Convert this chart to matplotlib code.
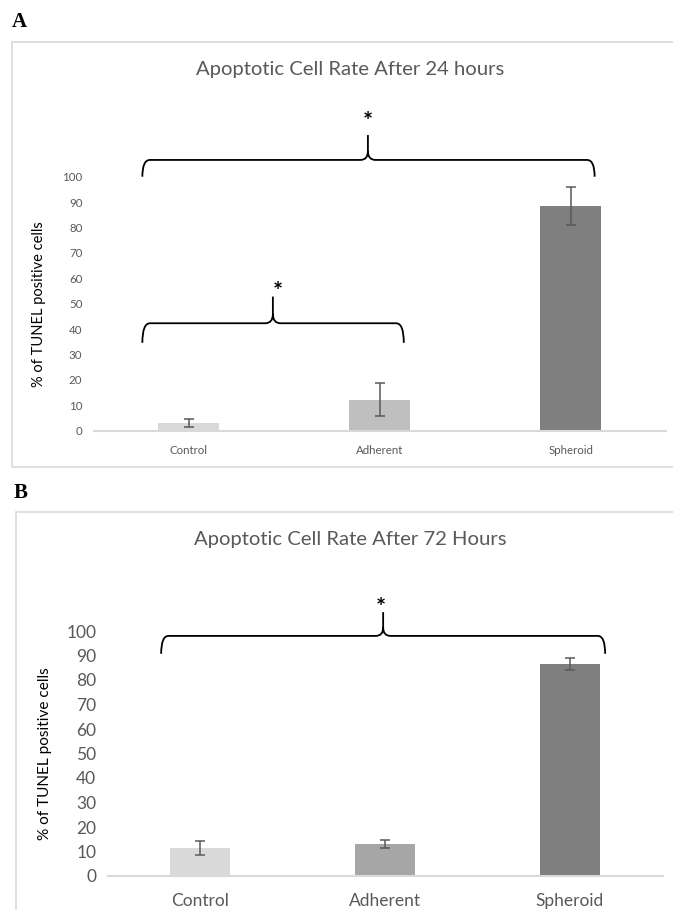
import matplotlib.pyplot as plt
from matplotlib.path import Path
from matplotlib.patches import PathPatch, Rectangle

plt.rcParams['font.family'] = ['Lato', 'DejaVu Sans']

groups = ['Control', 'Adherent', 'Spheroid']

rate_24h = [2.9, 12.1, 88.5]
err_24h = [1.6, 6.5, 7.4]
colors_24h = ['#d9d9d9', '#bfbfbf', '#7f7f7f']

rate_72h = [11.4, 13.1, 86.4]
err_72h = [3.0, 1.7, 2.5]
colors_72h = ['#d9d9d9', '#a6a6a6', '#7f7f7f']

text_grey = '#595959'


def brace(ax, x0, x1, y, drop, rise, xm):
    # curly brace in data coords, ends pointing down
    r = 0.04
    verts = [
        (x0, y - drop), (x0, y), (x0 + r, y),
        (xm - r, y), (xm, y), (xm, y + rise * 0.35),
        (xm, y + rise),
        (xm, y + rise * 0.35), (xm, y), (xm + r, y),
        (x1 - r, y), (x1, y), (x1, y - drop),
    ]
    codes = [Path.MOVETO, Path.CURVE3, Path.CURVE3,
             Path.LINETO, Path.CURVE3, Path.CURVE3,
             Path.LINETO,
             Path.MOVETO, Path.CURVE3, Path.CURVE3,
             Path.LINETO, Path.CURVE3, Path.CURVE3]
    ax.add_patch(PathPatch(Path(verts, codes), fill=False, lw=1.3,
                           edgecolor='black', clip_on=False))


def panel(fig, rect, title, vals, errs, colors, tick_fs, lab_fs, xpad,
          title_y, frame):
    ax = fig.add_axes(rect)
    x = range(len(groups))
    ax.bar(x, vals, width=0.32, color=colors, zorder=2)
    ax.errorbar(x, vals, yerr=errs, fmt='none', ecolor='#595959',
                elinewidth=1.1, capsize=3.5, capthick=1.1, zorder=3)
    ax.set_xlim(-0.5, 2.5)
    ax.set_ylim(0, 100)
    ax.set_yticks(range(0, 101, 10))
    ax.set_xticks(list(x))
    ax.set_xticklabels(groups)
    for s in ['top', 'right', 'left']:
        ax.spines[s].set_visible(False)
    ax.spines['bottom'].set_color('#d9d9d9')
    ax.spines['bottom'].set_linewidth(1.5)
    ax.tick_params(length=0, labelsize=tick_fs, colors=text_grey, pad=8)
    ax.tick_params(axis='x', pad=xpad)
    ax.set_ylabel('% of TUNEL positive cells', color='black',
                  fontsize=lab_fs)
    fig.text(350 / 673, title_y, title, ha='center', va='center',
             fontsize=14.6, color=text_grey)
    fig.add_artist(Rectangle((frame[0], frame[1]), frame[2], frame[3],
                             transform=fig.transFigure, fill=False,
                             edgecolor='#d9d9d9', lw=1.2))
    return ax


fig = plt.figure(figsize=(6.73, 9.10), dpi=100)

W, H = 673, 910

# panel A
axA = panel(fig, [93.5 / W, 1 - 430.7 / H, 572.5 / W, 254 / H],
            'Apoptotic Cell Rate After 24 hours', rate_24h, err_24h,
            colors_24h, 8.3, 10.5, 10, 1 - 69 / H,
            (12 / W, 1 - 467 / H, 670 / W, 425 / H))
axA.yaxis.set_label_coords(-0.083, 0.5)
brace(axA, -0.244, 2.126, 106.6, 6.6, 9.8, 0.938)
axA.text(0.935, 121.4, '*', ha='center', va='center', fontsize=17,
         fontweight='bold', clip_on=False)
brace(axA, -0.244, 1.126, 42.3, 7.7, 10.5, 0.44)
axA.text(0.465, 54.3, '*', ha='center', va='center', fontsize=17,
         fontweight='bold', clip_on=False)

# panel B
axB = panel(fig, [107.5 / W, 1 - 876 / H, 555 / W, 245 / H],
            'Apoptotic Cell Rate After 72 Hours', rate_72h, err_72h,
            colors_72h, 12.5, 11.1, 12, 1 - 540 / H,
            (16 / W, 1 - 912 / H, 670 / W, 400 / H))
axB.yaxis.set_label_coords(-0.1, 0.5)
brace(axB, -0.21, 2.19, 98, 7.3, 9.7, 0.99)
axB.text(0.98, 109.1, '*', ha='center', va='center', fontsize=17,
         fontweight='bold', clip_on=False)

fig.text(12 / W, 1 - 22 / H, 'A', fontsize=15, fontweight='bold',
         family='Liberation Serif', va='center')
fig.text(14 / W, 1 - 493 / H, 'B', fontsize=15, fontweight='bold',
         family='Liberation Serif', va='center')

fig.savefig('out.png', dpi=100)
